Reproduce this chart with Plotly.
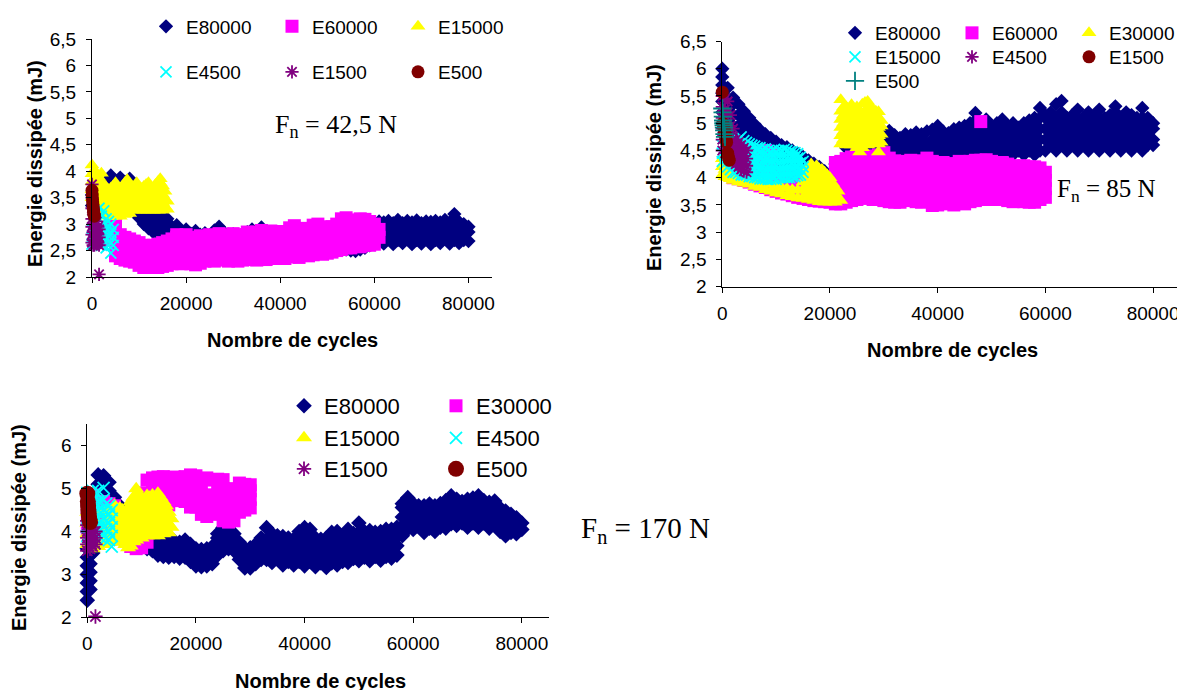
import plotly.graph_objects as go

# The page body adds an 8 px margin, so the figure is drawn 8 px smaller and shifted.
PAGE_W, PAGE_H, OFF = 1185, 690, 8
W, H = PAGE_W - OFF, PAGE_H - OFF

# ---------------- tick labels ----------------
X_TICKS = [0, 20000, 40000, 60000, 80000]
X_TICK_TEXT = ["0", "20000", "40000", "60000", "80000"]
Y_TICKS_HALF = [2, 2.5, 3, 3.5, 4, 4.5, 5, 5.5, 6, 6.5]
Y_TICK_TEXT_HALF = ["2", "2,5", "3", "3,5", "4", "4,5", "5", "5,5", "6", "6,5"]
Y_TICKS_UNIT = [2, 3, 4, 5, 6]
Y_TICK_TEXT_UNIT = ["2", "3", "4", "5", "6"]

# ================= Chart 1 : Fn = 42,5 N =================
C1_E80000_X = [0, 1000, 2000, 3000, 4000, 5000, 6000, 7000, 8000, 9000,
               10000, 11000, 12000, 13000, 14000, 15000, 16000, 17000, 18000, 19000,
               20000, 21000, 22000, 23000, 24000, 25000, 26000, 27000, 28000, 29000,
               30000, 31000, 32000, 33000, 34000, 35000, 36000, 37000, 38000, 39000,
               40000, 41000, 42000, 43000, 44000, 45000, 46000, 47000, 48000, 49000,
               50000, 51000, 52000, 53000, 54000, 55000, 56000, 57000, 58000, 59000,
               60000, 61000, 62000, 63000, 64000, 65000, 66000, 67000, 68000, 69000,
               70000, 71000, 72000, 73000, 74000, 75000, 76000, 77000, 78000, 79000, 80000]
C1_E80000_Y = [
    [3.35, 3.55], [3.4, 3.65], [3.45, 3.7], [3.5, 3.8], [3.55, 3.92],
    [3.5, 3.82], [3.55, 3.88], [3.5, 3.8], [3.45, 3.86], [3.28, 3.4],
    [3.12, 3.3], [3.0, 3.2, 3.3], [2.92, 3.1, 3.25], [2.85, 3.05, 3.2], [2.83, 3.0, 3.15],
    [2.84, 3.0, 3.12], [2.82, 2.98, 3.1], [2.75, 2.95], [2.7, 2.98], [2.65, 2.85],
    [2.65, 2.9], [2.6, 2.82], [2.65, 2.87], [2.6, 2.8], [2.62, 2.83],
    [2.6, 2.78], [2.65, 2.88], [2.65, 2.95], [2.6, 2.85], [2.62, 2.8],
    [2.6, 2.81], [2.6, 2.78], [2.6, 2.82], [2.62, 2.85], [2.6, 2.9],
    [2.62, 2.85], [2.6, 2.94], [2.58, 2.85], [2.6, 2.82], [2.55, 2.78],
    [2.58, 2.83], [2.55, 2.8], [2.56, 2.82], [2.5, 2.78], [2.52, 2.8],
    [2.55, 2.82], [2.52, 2.8], [2.55, 2.85], [2.53, 2.82], [2.55, 2.85],
    [2.56, 2.88], [2.55, 2.85], [2.58, 2.9], [2.55, 2.88], [2.52, 2.85],
    [2.5, 2.75], [2.49, 2.7], [2.52, 2.8], [2.55, 2.85], [2.6, 2.9],
    [2.62, 2.82, 3.02], [2.7, 2.9, 3.05], [2.63, 2.83, 3.03], [2.72, 2.92, 3.06], [2.62, 2.82, 3.02],
    [2.7, 2.9, 3.08], [2.64, 2.84, 3.02], [2.72, 2.92, 3.06], [2.62, 2.82, 3.03], [2.7, 2.9, 3.07],
    [2.63, 2.83, 3.02], [2.72, 2.92, 3.05], [2.62, 2.82, 3.04], [2.7, 2.9, 3.06], [2.64, 2.84, 3.03],
    [2.72, 2.92, 3.08], [2.63, 2.83, 3.03], [2.7, 2.9, 3.19], [2.64, 2.84, 3.04], [2.7, 2.9, 3.0],
    [2.68, 2.85, 2.95],
]

C1_E60000_X = [4000, 5000, 6000, 7000, 8000, 9000, 10000, 11000, 12000, 13000,
               14000, 15000, 16000, 17000, 18000, 19000, 20000, 21000, 22000, 23000,
               24000, 25000, 26000, 27000, 28000, 29000, 30000, 31000, 32000, 33000,
               34000, 35000, 36000, 37000, 38000, 39000, 40000, 41000, 42000, 43000,
               44000, 45000, 46000, 47000, 48000, 49000, 50000, 51000, 52000, 53000,
               54000, 55000, 56000, 57000, 58000, 59000, 60000, 61000]
C1_E60000_Y = [
    [2.7, 2.95], [2.4, 2.62, 2.85, 3.0], [2.35, 2.57, 2.8], [2.32, 2.54, 2.75], [2.3, 2.51, 2.72],
    [2.28, 2.48, 2.68], [2.22, 2.44, 2.65], [2.18, 2.4, 2.6], [2.18, 2.38, 2.58], [2.2, 2.4, 2.6],
    [2.18, 2.4, 2.62], [2.2, 2.42, 2.65], [2.22, 2.45, 2.68], [2.25, 2.48, 2.72], [2.27, 2.5, 2.75, 2.8],
    [2.25, 2.48, 2.72], [2.28, 2.52, 2.8], [2.25, 2.48, 2.72], [2.23, 2.46, 2.7, 2.75], [2.26, 2.5, 2.75, 2.78],
    [2.3, 2.52, 2.72], [2.32, 2.56, 2.8], [2.3, 2.54, 2.78], [2.33, 2.57, 2.82], [2.32, 2.56, 2.8],
    [2.3, 2.52, 2.75], [2.33, 2.57, 2.82], [2.3, 2.54, 2.8], [2.32, 2.55, 2.78], [2.33, 2.5, 2.68, 2.85],
    [2.35, 2.58, 2.82], [2.32, 2.5, 2.68, 2.85], [2.35, 2.53, 2.71, 2.88], [2.33, 2.5, 2.67, 2.83], [2.35, 2.52, 2.7, 2.87],
    [2.35, 2.58, 2.8], [2.36, 2.53, 2.7, 2.86], [2.35, 2.52, 2.69, 2.85], [2.38, 2.56, 2.75, 2.93], [2.4, 2.59, 2.78, 2.97],
    [2.37, 2.55, 2.73, 2.9], [2.42, 2.6, 2.77, 2.92], [2.4, 2.57, 2.74, 2.9], [2.42, 2.61, 2.8, 2.98], [2.45, 2.63, 2.82, 3.0],
    [2.43, 2.6, 2.77, 2.93], [2.45, 2.62, 2.79, 2.95], [2.47, 2.63, 2.79, 2.95], [2.5, 2.67, 2.84, 3.0], [2.52, 2.71, 2.9, 3.1],
    [2.55, 2.74, 2.93, 3.12], [2.55, 2.72, 2.89, 3.05], [2.58, 2.75, 2.92, 3.08], [2.57, 2.75, 2.93, 3.1], [2.6, 2.77, 2.94, 3.09],
    [2.6, 2.76, 2.92, 3.05], [2.62, 2.8, 3.0], [2.75, 2.9],
]

C1_E15000_X = [0, 500, 1000, 1500, 2000, 2500, 3000, 3500, 4000, 4500,
               5000, 5500, 6000, 6500, 7000, 7500, 8000, 8500, 9000, 9500,
               10000, 10500, 11000, 11500, 12000, 12500, 13000, 13500, 14000, 14500,
               15000, 15500, 16000]
C1_E15000_Y = [
    [3.5, 3.65, 3.8, 3.95, 4.12], [3.42, 3.57, 3.72, 3.87, 4.02], [3.4, 3.55, 3.7, 3.85, 3.95],
    [3.33, 3.48, 3.63, 3.78, 3.88], [3.3, 3.45, 3.6, 3.75, 3.96], [3.22, 3.37, 3.52, 3.67, 3.75],
    [3.15, 3.3, 3.45, 3.6, 3.7], [3.2, 3.35, 3.5, 3.65], [3.14, 3.29, 3.44, 3.59, 3.68],
    [3.2, 3.35, 3.5, 3.65, 3.72], [3.15, 3.3, 3.45, 3.6, 3.78], [3.2, 3.35, 3.5, 3.65],
    [3.15, 3.3, 3.45, 3.6, 3.66], [3.22, 3.37, 3.52, 3.67, 3.72], [3.18, 3.33, 3.48, 3.63, 3.78],
    [3.24, 3.39, 3.54, 3.69, 3.84], [3.2, 3.35, 3.5, 3.65, 3.7], [3.27, 3.42, 3.57, 3.67],
    [3.26, 3.41, 3.56, 3.71], [3.33, 3.48, 3.63, 3.78], [3.26, 3.41, 3.56, 3.68],
    [3.33, 3.48, 3.63, 3.67], [3.26, 3.41, 3.56, 3.71], [3.33, 3.48, 3.63, 3.75],
    [3.26, 3.41, 3.56, 3.71, 3.78], [3.33, 3.48, 3.63, 3.67], [3.26, 3.41, 3.56, 3.68],
    [3.33, 3.48, 3.63, 3.75], [3.26, 3.41, 3.56, 3.71, 3.8], [3.33, 3.48, 3.63, 3.78, 3.86],
    [3.26, 3.41, 3.56, 3.72], [3.33, 3.48, 3.62], [3.28, 3.43],
]

C1_E4500_X = [0, 500, 1000, 1500, 2000, 2500, 3000, 3500, 4000, 4500]
C1_E4500_Y = [
    [2.62, 2.75, 2.9], [2.65, 2.8, 3.0], [2.7, 2.85, 3.05, 3.2], [2.65, 2.9, 3.1, 3.3],
    [2.6, 2.75, 2.95, 3.15], [2.62, 2.8, 3.0, 3.25], [2.55, 2.7, 2.9, 3.1],
    [2.6, 2.78, 2.95, 3.05], [2.45, 2.65, 2.85, 3.0], [2.6, 2.75, 2.9],
]

C1_E1500_X = [0, 250, 500, 750, 1000, 1250, 1500]
C1_E1500_Y = [
    [3.75, 3.5, 3.3, 3.1, 2.95, 2.8, 2.65], [3.0, 2.85, 2.7, 2.6], [3.1, 2.9, 2.75, 2.6],
    [3.0, 2.85, 2.7], [3.05, 2.9, 2.75, 2.62], [2.95, 2.8, 2.65], [2.9, 2.75, 2.6, 2.05],
]

C1_E500_X = [0, 50, 100, 150, 200, 250, 300, 350, 400, 450, 500]
C1_E500_Y = [3.64, 3.55, 3.47, 3.42, 3.37, 3.33, 3.28, 3.24, 3.2, 3.17, 3.15]

# ================= Chart 2 : Fn = 85 N =================
C2_E80000_X = [0, 1000, 2000, 3000, 4000, 5000, 6000, 7000, 8000, 9000,
               10000, 11000, 12000, 13000, 14000, 15000, 16000, 17000, 18000, 19000,
               20000, 21000, 22000, 23000, 24000, 25000, 26000, 27000, 28000, 29000,
               30000, 31000, 32000, 33000, 34000, 35000, 36000, 37000, 38000, 39000,
               40000, 41000, 42000, 43000, 44000, 45000, 46000, 47000, 48000, 49000,
               50000, 51000, 52000, 53000, 54000, 55000, 56000, 57000, 58000, 59000,
               60000, 61000, 62000, 63000, 64000, 65000, 66000, 67000, 68000, 69000,
               70000, 71000, 72000, 73000, 74000, 75000, 76000, 77000, 78000, 79000, 80000]
C2_E80000_Y = [
    [6.0, 5.85, 5.7, 5.55, 5.4, 5.2, 5.0], [5.65, 5.45, 5.25, 5.05, 4.85], [5.47, 5.35, 5.15, 4.95, 4.75],
    [5.35, 5.15, 4.95, 4.75], [5.22, 5.05, 4.85, 4.65], [5.1, 4.95, 4.75, 4.55],
    [4.98, 4.85, 4.65, 4.45], [4.88, 4.75, 4.55, 4.38], [4.8, 4.65, 4.45, 4.3],
    [4.73, 4.55, 4.37, 4.25], [4.66, 4.48, 4.3, 4.2], [4.6, 4.42, 4.25, 4.15],
    [4.56, 4.38, 4.2, 4.1], [4.5, 4.32, 4.15, 4.05], [4.44, 4.27, 4.1, 4.0],
    [4.38, 4.22, 4.05, 3.95], [4.32, 4.17, 4.0, 3.9], [4.26, 4.1, 3.95, 3.85],
    [4.2, 4.03, 3.88, 3.75], [4.12, 3.95, 3.8, 3.65], [4.0, 3.85, 3.7, 3.56],
    [4.25, 4.08, 3.9, 3.6], [4.3, 4.12, 3.95], [4.35, 4.55, 4.75], [4.35, 4.55, 4.75],
    [4.35, 4.55, 4.75], [4.35, 4.55, 4.75], [4.35, 4.55, 4.75], [4.35, 4.55, 4.75],
    [4.38, 4.58, 4.78], [4.42, 4.62, 4.82], [4.5, 4.7, 4.86], [4.42, 4.62, 4.78],
    [4.5, 4.73], [4.42, 4.62, 4.8], [4.5, 4.7, 4.78], [4.42, 4.62, 4.83],
    [4.5, 4.7, 4.8], [4.42, 4.62, 4.85], [4.5, 4.7, 4.88], [4.42, 4.62, 4.82, 4.95],
    [4.5, 4.7, 4.85], [4.42, 4.62, 4.82], [4.5, 4.7, 4.89], [4.42, 4.62, 4.82, 4.92],
    [4.5, 4.7, 4.9, 4.95], [4.42, 4.62, 4.82, 5.0], [4.5, 4.7, 4.9, 5.05, 5.19], [4.42, 4.62, 4.82, 4.98],
    [4.5, 4.7, 4.9, 5.07], [4.42, 4.62, 4.82, 4.95], [4.5, 4.7, 4.9, 5.0], [4.42, 4.62, 4.82, 5.0, 5.07],
    [4.5, 4.7, 4.9, 4.95], [4.42, 4.62, 4.82, 5.0], [4.5, 4.7, 4.92], [4.42, 4.62, 4.82, 5.0],
    [4.5, 4.7, 4.9, 5.05], [4.42, 4.62, 4.82, 5.02, 5.1], [4.5, 4.7, 4.9, 5.1, 5.28],
    [4.5, 4.7, 4.9, 5.1, 5.15], [4.6, 4.8, 5.0, 5.2], [4.5, 4.7, 4.9, 5.1, 5.35],
    [4.6, 4.8, 5.0, 5.2, 5.41], [4.5, 4.7, 4.9, 5.1], [4.6, 4.8, 5.0, 5.15],
    [4.5, 4.7, 4.9, 5.1, 5.25], [4.6, 4.8, 5.0, 5.1], [4.5, 4.7, 4.9, 5.1, 5.2],
    [4.6, 4.8, 5.0, 5.13], [4.5, 4.7, 4.9, 5.1, 5.25], [4.6, 4.8, 5.0, 5.1],
    [4.5, 4.7, 4.9, 5.1, 5.15], [4.6, 4.8, 5.0, 5.2, 5.31], [4.5, 4.7, 4.9, 5.1],
    [4.6, 4.8, 5.0, 5.2], [4.5, 4.7, 4.9, 5.1, 5.15], [4.6, 4.8, 5.0, 5.1],
    [4.5, 4.7, 4.9, 5.1, 5.28], [4.6, 4.8, 5.0, 5.1], [4.6, 4.7, 4.9, 5.0],
]

C2_E60000_X = [1000, 2000, 3000, 4000, 5000, 6000, 7000, 8000, 9000, 10000,
               11000, 12000, 13000, 14000, 15000, 16000, 17000, 18000, 19000, 20000,
               21000, 22000, 23000, 24000, 25000, 26000, 27000, 28000, 29000, 30000,
               31000, 32000, 33000, 34000, 35000, 36000, 37000, 38000, 39000, 40000,
               41000, 42000, 43000, 44000, 45000, 46000, 47000, 48000, 49000, 50000,
               51000, 52000, 53000, 54000, 55000, 56000, 57000, 58000, 59000, 60000]
C2_E60000_Y = [
    [4.15, 4.35], [4.0, 4.2, 4.4], [3.98, 4.15, 4.35], [3.95, 4.12, 4.3], [3.92, 4.1, 4.3],
    [3.88, 4.05, 4.25], [3.85, 4.02, 4.25, 4.45], [3.82, 4.0, 4.2, 4.5], [3.78, 3.95, 4.15, 4.45], [3.75, 3.92, 4.1],
    [3.72, 3.9, 4.08], [3.7, 3.88, 4.05], [3.67, 3.85, 4.02], [3.64, 3.82, 4.0], [3.62, 3.8, 3.98],
    [3.6, 3.78, 3.95], [3.58, 3.76, 3.95], [3.57, 3.75, 3.95], [3.56, 3.75, 3.95], [3.55, 3.75, 4.0],
    [3.52, 3.7, 3.9, 4.1, 4.28], [3.52, 3.72, 3.92, 4.12, 4.3], [3.55, 3.75, 3.95, 4.15, 4.35],
    [3.58, 3.78, 3.98, 4.18, 4.38], [3.6, 3.8, 4.0, 4.2, 4.43], [3.64, 3.82, 4.02, 4.22, 4.4],
    [3.62, 3.8, 4.0, 4.2, 4.38], [3.6, 3.8, 4.0, 4.2, 4.4], [3.6, 3.78, 3.98, 4.2, 4.42],
    [3.58, 3.78, 3.98, 4.2, 4.46], [3.56, 3.76, 3.96, 4.16, 4.36], [3.55, 3.75, 3.95, 4.15, 4.31],
    [3.55, 3.75, 3.95, 4.12, 4.28], [3.58, 3.76, 3.95, 4.12, 4.3], [3.6, 3.78, 3.96, 4.14, 4.32],
    [3.56, 3.75, 3.95, 4.12, 4.3], [3.55, 3.74, 3.94, 4.12, 4.31], [3.58, 3.76, 3.95, 4.15, 4.36],
    [3.49, 3.7, 3.9, 4.1, 4.3], [3.5, 3.7, 3.9, 4.08, 4.25], [3.52, 3.72, 3.92, 4.1, 4.28],
    [3.55, 3.74, 3.93, 4.1, 4.24], [3.5, 3.7, 3.9, 4.08, 4.26], [3.55, 3.74, 3.93, 4.12, 4.3],
    [3.52, 3.72, 3.92, 4.1, 4.28], [3.56, 3.76, 3.95, 4.12, 4.3], [3.58, 3.76, 3.95, 4.14, 4.32],
    [3.6, 3.78, 3.96, 4.14, 4.32, 5.03], [3.6, 3.78, 3.96, 4.15, 4.33], [3.62, 3.8, 3.98, 4.15, 4.3],
    [3.6, 3.78, 3.96, 4.12, 4.28], [3.61, 3.78, 3.95, 4.12, 4.28], [3.58, 3.76, 3.94, 4.1, 4.25],
    [3.56, 3.75, 3.93, 4.1, 4.22], [3.58, 3.76, 3.94, 4.1, 4.21], [3.56, 3.75, 3.93, 4.1, 4.22],
    [3.55, 3.74, 3.92, 4.08, 4.2], [3.55, 3.74, 3.92, 4.08, 4.2], [3.6, 3.78, 3.95, 4.1, 4.18],
    [3.64, 3.8, 3.95, 4.1],
]

C2_E30000_X = [0, 500, 1000, 1500, 2000, 3000, 4000, 5000, 6000, 7000,
               8000, 9000, 10000, 11000, 12000, 13000, 14000, 15000, 15500, 16000,
               16500, 17000, 17500, 18000, 18500, 19000, 19500, 20000, 20500, 21000,
               21500, 22000, 22500, 23000, 23500, 24000, 24500, 25000, 25500, 26000,
               26500, 27000, 27500, 28000, 28500, 29000, 29500]
C2_E30000_Y = [
    [4.05, 4.2, 4.35], [4.02, 4.15, 4.3], [4.0, 4.12, 4.25], [3.98, 4.1, 4.22], [3.95, 4.08],
    [3.92, 4.05], [3.9, 4.02], [3.88, 4.0], [3.84, 3.96], [3.82, 3.94],
    [3.78, 3.9], [3.75, 3.88], [3.72, 3.85], [3.7, 3.82], [3.67, 3.8],
    [3.65, 3.78], [3.63, 3.77], [3.62, 3.77, 3.92, 4.07], [3.7, 3.85, 4.0, 4.15], [3.6, 3.75, 3.9, 4.05, 4.2],
    [3.67, 3.82, 3.97, 4.12, 4.25], [3.58, 3.73, 3.88, 4.03, 4.18], [3.65, 3.8, 3.95, 4.1, 4.22], [3.56, 3.71, 3.86, 4.01, 4.16],
    [3.63, 3.78, 3.93, 4.08, 4.15], [3.55, 3.7, 3.85, 4.0, 4.1], [3.62, 3.77, 3.92, 4.05], [3.55, 3.7, 3.85, 4.0],
    [3.62, 3.77, 3.9], [3.55, 3.7, 3.82], [3.62, 3.75],
    [3.58, 4.62, 4.77, 4.92, 5.07, 5.22, 5.43], [4.7, 4.85, 5.0, 5.15, 5.3],
    [4.6, 4.75, 4.9, 5.05, 5.2, 5.3], [4.68, 4.83, 4.98, 5.13, 5.25],
    [4.6, 4.75, 4.9, 5.05, 5.2, 5.34], [4.68, 4.83, 4.98, 5.13, 5.25],
    [4.55, 4.7, 4.85, 5.0, 5.15, 5.3], [4.47, 4.62, 4.77, 4.92, 5.07, 5.22],
    [4.55, 4.7, 4.85, 5.0, 5.15, 5.35], [4.62, 4.77, 4.92, 5.07, 5.22, 5.38],
    [4.6, 4.75, 4.9, 5.05, 5.2, 5.4], [4.68, 4.83, 4.98, 5.13, 5.28],
    [4.62, 4.77, 4.92, 5.07, 5.25], [4.7, 4.85, 5.0, 5.15, 5.22],
    [4.47, 4.62, 4.77, 4.92, 5.07, 5.21], [4.65, 4.8, 4.95, 5.05],
]

C2_E15000_X = [0, 500, 1000, 1500, 2000, 2500, 3000, 3500, 4000, 4500,
               5000, 5500, 6000, 6500, 7000, 7500, 8000, 8500, 9000, 9500,
               10000, 10500, 11000, 11500, 12000, 12500, 13000, 13500, 14000, 14500, 15000]
C2_E15000_Y = [
    [4.3, 4.45, 4.6], [4.25, 4.4, 4.55], [4.2, 4.35, 4.5, 4.65], [4.15, 4.3, 4.45, 4.6],
    [4.1, 4.25, 4.4, 4.55], [4.1, 4.25, 4.4, 4.6], [4.08, 4.25, 4.45, 4.7],
    [4.05, 4.2, 4.4, 4.6, 4.75], [4.05, 4.2, 4.35, 4.5, 4.68], [4.05, 4.2, 4.35, 4.5, 4.65],
    [4.02, 4.18, 4.32, 4.48, 4.62], [4.02, 4.15, 4.3, 4.45, 4.6], [4.0, 4.15, 4.3, 4.45, 4.58],
    [4.0, 4.12, 4.28, 4.42, 4.55], [3.98, 4.12, 4.25, 4.4, 4.55], [3.98, 4.1, 4.25, 4.4, 4.52],
    [3.98, 4.1, 4.25, 4.38, 4.53], [3.97, 4.1, 4.22, 4.36, 4.5], [3.97, 4.1, 4.22, 4.35, 4.48],
    [3.98, 4.1, 4.22, 4.35, 4.5], [3.97, 4.1, 4.22, 4.35, 4.48], [4.0, 4.12, 4.25, 4.38, 4.5],
    [4.0, 4.12, 4.25, 4.38, 4.5], [4.0, 4.12, 4.25, 4.38, 4.52], [4.0, 4.12, 4.24, 4.36, 4.5],
    [4.0, 4.12, 4.24, 4.36, 4.48], [4.02, 4.14, 4.26, 4.38, 4.48], [4.02, 4.14, 4.26, 4.38, 4.46],
    [4.04, 4.15, 4.26, 4.36, 4.44], [4.05, 4.16, 4.27, 4.38], [4.1, 4.2, 4.3],
]

C2_E4500_X = [0, 500, 1000, 1500, 2000, 2500, 3000, 3500, 4000, 4500]
C2_E4500_Y = [
    [4.5, 4.7, 4.9, 5.1, 5.3, 5.5], [4.45, 4.65, 4.85, 5.05, 5.25, 5.45],
    [4.4, 4.6, 4.8, 5.0, 5.2, 5.4], [4.35, 4.55, 4.75, 4.95, 5.15],
    [4.3, 4.5, 4.7, 4.9], [4.25, 4.4, 4.55, 4.7], [4.2, 4.35, 4.5, 4.65],
    [4.15, 4.3, 4.45, 4.6], [4.12, 4.25, 4.4, 4.55], [4.1, 4.22, 4.35, 4.5],
]

C2_E1500_X = [0, 100, 200, 300, 400, 500, 600, 700, 800, 1000, 1100, 1200, 1300]
C2_E1500_Y = [5.57, 5.0, 4.95, 4.9, 4.85, 4.8, 4.75, 4.7, 4.65, 4.45, 4.4, 4.35, 4.32]

C2_E500_X = [0, 50, 100, 150, 200, 250, 300, 350, 400, 500]
C2_E500_Y = [5.27, 5.2, 5.12, 5.05, 5.0, 4.96, 4.92, 4.87, 4.8, 4.75]

# ================= Chart 3 : Fn = 170 N =================
C3_E80000_X = [0, 500, 1000, 2000, 3000, 4000, 5000, 6000, 7000, 8000, 9000, 10000,
               11000, 12000, 13000, 14000, 15000, 16000, 17000, 18000, 19000,
               20000, 21000, 22000, 23000, 24000, 25000, 26000, 27000, 28000, 29000,
               30000, 31000, 32000, 33000, 34000, 35000, 36000, 37000, 38000, 39000,
               40000, 41000, 42000, 43000, 44000, 45000, 46000, 47000, 48000, 49000,
               50000, 51000, 52000, 53000, 54000, 55000, 56000, 57000, 58000, 59000,
               60000, 61000, 62000, 63000, 64000, 65000, 66000, 67000, 68000, 69000,
               70000, 71000, 72000, 73000, 74000, 75000, 76000, 77000, 78000, 79000, 80000]
C3_E80000_Y = [
    [2.4, 2.6, 2.8, 3.0, 3.2, 3.4, 3.6], [2.65, 2.85, 3.05, 3.25, 3.45], [3.5, 3.8, 4.1, 4.4],
    [4.6, 4.85, 5.1, 5.32], [4.6, 4.85, 5.1, 5.3], [4.5, 4.75, 4.95, 5.15], [4.4, 4.6, 4.8],
    [4.2, 4.4, 4.6], [3.9, 4.1, 4.3], [3.9, 4.1, 4.3], [3.9, 4.1, 4.3], [3.85, 4.05, 4.25],
    [3.6, 3.8, 4.0], [3.55, 3.7, 3.85], [3.45, 3.62, 3.78], [3.42, 3.6, 3.76], [3.4, 3.58, 3.75],
    [3.42, 3.6, 3.78], [3.38, 3.56, 3.75], [3.4, 3.58, 3.8], [3.3, 3.5, 3.7],
    [3.2, 3.4, 3.6], [3.18, 3.38, 3.58], [3.2, 3.4, 3.6], [3.25, 3.45, 3.65], [3.45, 3.65, 3.85, 3.95],
    [3.55, 3.75, 3.95, 4.09], [3.6, 3.8, 4.02], [3.55, 3.75, 3.95], [3.35, 3.55, 3.75], [3.15, 3.35, 3.55, 3.6],
    [3.15, 3.35, 3.55, 3.62], [3.25, 3.45, 3.65, 3.7], [3.35, 3.55, 3.75, 3.85], [3.35, 3.57, 3.79, 4.09],
    [3.28, 3.5, 3.72, 3.95], [3.36, 3.58, 3.8, 3.9], [3.22, 3.44, 3.66, 3.88], [3.3, 3.52, 3.74, 3.85],
    [3.22, 3.44, 3.66, 3.82], [3.3, 3.52, 3.74, 4.0], [3.2, 3.42, 3.64, 3.86, 4.09], [3.3, 3.52, 3.74, 3.96, 4.05],
    [3.18, 3.4, 3.62, 3.85], [3.27, 3.49, 3.71, 3.82], [3.16, 3.38, 3.6, 3.85], [3.27, 3.49, 3.71, 3.98],
    [3.22, 3.44, 3.66, 3.88, 4.0], [3.3, 3.52, 3.74, 3.9], [3.28, 3.5, 3.72, 3.94, 4.05], [3.37, 3.59, 3.81, 3.95],
    [3.32, 3.54, 3.76, 3.98, 4.2], [3.4, 3.62, 3.84, 4.0], [3.32, 3.54, 3.76, 3.98, 4.02], [3.42, 3.64, 3.86, 3.98],
    [3.33, 3.55, 3.77, 4.0], [3.42, 3.64, 3.86, 4.05], [3.38, 3.6, 3.82, 4.05], [3.45, 3.67, 3.89, 4.1],
    [3.9, 4.12, 4.34, 4.56, 4.65], [4.06, 4.28, 4.5, 4.72, 4.79], [4.05, 4.27, 4.49, 4.65], [4.12, 4.34, 4.56, 4.6],
    [3.98, 4.2, 4.42, 4.6], [4.08, 4.3, 4.52, 4.64], [4.0, 4.22, 4.44, 4.6], [4.1, 4.32, 4.54, 4.65],
    [4.08, 4.3, 4.52, 4.72], [4.18, 4.4, 4.62, 4.83], [4.14, 4.36, 4.58, 4.75], [4.2, 4.42, 4.64, 4.7],
    [4.1, 4.32, 4.54, 4.75], [4.2, 4.42, 4.64, 4.78], [4.1, 4.32, 4.54, 4.76, 4.83], [4.2, 4.42, 4.64, 4.72],
    [4.08, 4.3, 4.52, 4.68], [4.16, 4.38, 4.6, 4.71], [4.0, 4.22, 4.44, 4.55], [3.9, 4.12, 4.34, 4.48],
    [3.98, 4.2, 4.4], [3.95, 4.17, 4.32], [4.05, 4.2],
]

C3_E30000_X = [0, 1000, 2000, 3000, 4000, 5000, 6000, 7000, 8000, 9000,
               10000, 11000, 12000, 13000, 14000, 15000, 16000, 17000, 18000, 19000,
               20000, 21000, 22000, 23000, 24000, 25000, 26000, 27000, 28000, 29000, 30000]
C3_E30000_Y = [
    [4.05, 4.3, 4.55, 4.8], [4.1, 4.35, 4.6, 4.85], [4.2, 4.45, 4.7], [4.2, 4.45, 4.7],
    [4.15, 4.4, 4.65], [4.1, 4.35, 4.6], [3.95, 4.2, 4.45], [3.8, 4.05, 4.3], [3.65, 3.9, 4.15],
    [3.6, 3.85, 4.1], [3.62, 3.9, 4.6, 4.9], [3.75, 4.55, 4.85, 5.2], [4.5, 4.75, 5.0, 5.25],
    [4.55, 4.8, 5.05, 5.27], [4.6, 4.82, 5.05, 5.28], [4.62, 4.85, 5.07, 5.25], [4.72, 4.92, 5.12, 5.27],
    [4.73, 4.92, 5.1, 5.25], [4.7, 4.9, 5.1, 5.28], [4.57, 4.8, 5.05, 5.32], [4.57, 4.8, 5.05, 5.3],
    [4.4, 4.62, 4.85, 5.1], [4.35, 4.6, 4.85, 5.25], [4.4, 4.62, 4.85, 5.2], [4.45, 4.7, 4.95, 5.22],
    [4.25, 4.5, 4.75, 5.0, 5.21], [4.22, 4.45, 4.7, 4.95], [4.25, 4.5, 4.75, 5.0], [4.45, 4.7, 4.9, 5.13],
    [4.5, 4.72, 4.95, 5.1], [4.55, 4.75, 4.95, 5.09],
]

C3_E15000_X = [0, 1000, 2000, 3000, 4000, 5000, 5500, 6000, 6500, 7000,
               7500, 8000, 8500, 9000, 9500, 10000, 10500, 11000, 11500, 12000,
               12500, 13000, 13500, 14000, 14500, 15000, 15500]
C3_E15000_Y = [
    [3.7, 3.95, 4.2, 4.45], [3.6, 3.85, 4.1, 4.35], [3.65, 3.9, 4.15, 4.4], [3.7, 3.95, 4.2, 4.45],
    [3.75, 4.0, 4.25, 4.5], [3.8, 4.0, 4.2, 4.4, 4.61], [3.9, 4.1, 4.3, 4.5],
    [3.8, 4.0, 4.2, 4.4, 4.55], [3.75, 3.95, 4.15, 4.35, 4.5], [3.7, 3.9, 4.1, 4.3, 4.45],
    [3.62, 3.82, 4.02, 4.22, 4.42, 4.55], [3.66, 3.86, 4.06, 4.26, 4.46, 4.7],
    [3.76, 3.96, 4.16, 4.36, 4.56, 4.8], [3.8, 4.0, 4.2, 4.4, 4.6, 4.8, 5.0],
    [3.9, 4.1, 4.3, 4.5, 4.7, 4.85], [3.85, 4.05, 4.25, 4.45, 4.65, 4.8],
    [3.95, 4.15, 4.35, 4.55, 4.7], [3.9, 4.1, 4.3, 4.5, 4.7, 4.84],
    [4.0, 4.2, 4.4, 4.6, 4.8], [3.9, 4.1, 4.3, 4.5, 4.7, 4.85],
    [4.0, 4.2, 4.4, 4.6, 4.8], [3.9, 4.1, 4.3, 4.5, 4.7, 4.89],
    [4.0, 4.2, 4.4, 4.6, 4.8], [3.95, 4.15, 4.35, 4.55, 4.7],
    [4.05, 4.25, 4.45, 4.6], [3.97, 4.17, 4.37, 4.45], [4.1, 4.3],
]

C3_E4500_X = [0, 500, 1000, 1500, 2000, 2500, 3000, 3500, 4000, 4500]
C3_E4500_Y = [
    [3.9, 4.1, 4.3, 4.5, 4.7, 4.9], [3.85, 4.05, 4.25, 4.45, 4.65, 4.85],
    [3.9, 4.1, 4.3, 4.5, 4.7, 4.95], [3.85, 4.05, 4.25, 4.45, 4.65, 4.9],
    [3.9, 4.1, 4.3, 4.5, 4.7, 4.95], [3.85, 4.05, 4.25, 4.45, 4.7],
    [3.9, 4.1, 4.3, 4.5, 4.75, 5.02], [3.85, 4.05, 4.25, 4.45, 4.65],
    [3.8, 4.0, 4.2, 4.4, 4.6], [3.65, 3.9, 4.1, 4.3, 4.5],
]

C3_E1500_X = [0, 500, 1000, 1500]
C3_E1500_Y = [
    [3.55, 3.7, 3.85, 4.0, 4.15, 4.25], [3.6, 3.75, 3.9, 4.05, 4.2],
    [3.65, 3.8, 3.95, 4.1], [3.7, 3.85, 4.0, 2.02],
]

C3_E500_X = [0, 100, 150, 200, 250, 300, 400, 500]
C3_E500_Y = [4.88, 4.7, 4.6, 4.5, 4.42, 4.35, 4.28, 4.22]


def expand(xs, ys):
    assert len(xs) == len(ys), (len(xs), len(ys))
    ox, oy = [], []
    for x, yv in zip(xs, ys):
        if isinstance(yv, (list, tuple)):
            for v in yv:
                ox.append(x)
                oy.append(v)
        else:
            ox.append(x)
            oy.append(yv)
    return ox, oy


NAVY, MAGENTA, YELLOW = "#000080", "#FF00FF", "#FFFF00"
CYAN, PURPLE, MAROON, TEAL = "#00FFFF", "#800080", "#800000", "#008080"

STY = {
    "diamond": dict(symbol="diamond", size=11),
    "square": dict(symbol="square", size=13),
    "triangle": dict(symbol="triangle-up", size=13),
    "x": dict(symbol="x-thin-open", size=11),
    "star": dict(symbol="asterisk-open", size=11),
    "circle": dict(symbol="circle", size=13),
    "plus": dict(symbol="cross-thin-open", size=13),
}

fig = go.Figure()


def add(name, xs, ys, color, kind, xa, ya, legend, size=None):
    px_, py_ = expand(xs, ys)
    st = dict(STY[kind])
    if size is not None:
        st["size"] = size
    open_sym = st["symbol"].endswith("open")
    marker = dict(symbol=st["symbol"], size=st["size"], color=color,
                  line=dict(width=1.8 if open_sym else 0, color=color))
    fig.add_trace(go.Scatter(x=px_, y=py_, mode="markers", name=name, marker=marker,
                             xaxis=xa, yaxis=ya, legend=legend, cliponaxis=False,
                             showlegend=True, hoverinfo="skip"))


# chart 1
add("E80000", C1_E80000_X, C1_E80000_Y, NAVY, "diamond", "x", "y", "legend")
add("E60000", C1_E60000_X, C1_E60000_Y, MAGENTA, "square", "x", "y", "legend")
add("E15000", C1_E15000_X, C1_E15000_Y, YELLOW, "triangle", "x", "y", "legend")
add("E4500", C1_E4500_X, C1_E4500_Y, CYAN, "x", "x", "y", "legend2")
add("E1500", C1_E1500_X, C1_E1500_Y, PURPLE, "star", "x", "y", "legend2")
add("E500", C1_E500_X, C1_E500_Y, MAROON, "circle", "x", "y", "legend2")
# chart 2
add("E80000", C2_E80000_X, C2_E80000_Y, NAVY, "diamond", "x2", "y2", "legend3")
add("E60000", C2_E60000_X, C2_E60000_Y, MAGENTA, "square", "x2", "y2", "legend3")
add("E30000", C2_E30000_X, C2_E30000_Y, YELLOW, "triangle", "x2", "y2", "legend3")
add("E15000", C2_E15000_X, C2_E15000_Y, CYAN, "x", "x2", "y2", "legend4")
add("E4500", C2_E4500_X, C2_E4500_Y, PURPLE, "star", "x2", "y2", "legend4")
add("E1500", C2_E1500_X, C2_E1500_Y, MAROON, "circle", "x2", "y2", "legend4")
add("E500", C2_E500_X, C2_E500_Y, TEAL, "plus", "x2", "y2", "legend5")
# chart 3
add("E80000", C3_E80000_X, C3_E80000_Y, NAVY, "diamond", "x3", "y3", "legend6", size=12)
add("E30000", C3_E30000_X, C3_E30000_Y, MAGENTA, "square", "x3", "y3", "legend6", size=13)
add("E15000", C3_E15000_X, C3_E15000_Y, YELLOW, "triangle", "x3", "y3", "legend7", size=14)
add("E4500", C3_E4500_X, C3_E4500_Y, CYAN, "x", "x3", "y3", "legend7", size=12)
add("E1500", C3_E1500_X, C3_E1500_Y, PURPLE, "star", "x3", "y3", "legend8", size=12)
add("E500", C3_E500_X, C3_E500_Y, MAROON, "circle", "x3", "y3", "legend8", size=16)

FONT = "Liberation Sans, Arial, sans-serif"
SERIF = "Liberation Serif, Times New Roman, serif"


def xaxis(domain, anchor):
    return dict(domain=domain, anchor=anchor, range=[0, 85000], tickvals=X_TICKS,
                ticktext=X_TICK_TEXT, ticks="outside", ticklen=5, tickcolor="black",
                showline=True, linecolor="black", linewidth=1, showgrid=False,
                zeroline=False, tickfont=dict(family=FONT, size=19, color="black"),
                ticklabelstandoff=4, fixedrange=True, automargin=False)


def yaxis(domain, anchor, tv, tt):
    return dict(domain=domain, anchor=anchor, range=[2, 6.5], tickvals=tv, ticktext=tt,
                ticks="outside", ticklen=5, tickcolor="black", showline=True,
                linecolor="black", linewidth=1, showgrid=False, zeroline=False,
                tickfont=dict(family=FONT, size=19, color="black"),
                ticklabelstandoff=6, fixedrange=True, automargin=False)


def px2x(p):
    return (p - OFF) / W


def py2y(p):
    return 1 - (p - OFF) / H


layout = dict(
    template="none",
    width=W, height=H, autosize=False,
    margin=dict(l=0, r=0, t=0, b=0, pad=0, autoexpand=False),
    paper_bgcolor="white", plot_bgcolor="rgba(0,0,0,0)",
    font=dict(family=FONT, color="black"),
    xaxis=xaxis([px2x(92), px2x(492)], "y"),
    yaxis=yaxis([py2y(277), py2y(39)], "x", Y_TICKS_HALF, Y_TICK_TEXT_HALF),
    xaxis2=xaxis([px2x(722.3), px2x(1180)], "y2"),
    yaxis2=yaxis([py2y(286.7), py2y(41.5)], "x2", Y_TICKS_HALF, Y_TICK_TEXT_HALF),
    xaxis3=xaxis([px2x(87.3), px2x(549)], "y3"),
    yaxis3=yaxis([py2y(617.3), py2y(424.3)], "x3", Y_TICKS_UNIT, Y_TICK_TEXT_UNIT),
)


def leg(xtext, ycenter, fsize, ew):
    return dict(orientation="h", x=px2x(xtext - 40), y=py2y(ycenter), xanchor="left",
                yanchor="middle", bgcolor="rgba(0,0,0,0)", borderwidth=0,
                font=dict(family=FONT, size=fsize, color="black"),
                entrywidth=ew, entrywidthmode="pixels", itemclick=False,
                itemdoubleclick=False)


layout["legend"] = leg(186, 26.5, 19, 81)
layout["legend2"] = leg(186, 72, 19, 81)
layout["legend3"] = leg(875, 33, 19, 72)
layout["legend4"] = leg(875, 57, 19, 72)
layout["legend5"] = leg(875, 81, 19, 72)
layout["legend6"] = leg(324, 406, 22, 107)
layout["legend7"] = leg(324, 438, 22, 107)
layout["legend8"] = leg(324, 469, 22, 107)

ann = []


def text(t, x, y, size, family=FONT, angle=0):
    ann.append(dict(text=t, x=px2x(x), y=py2y(y), xref="paper", yref="paper",
                    xanchor="center", yanchor="middle", showarrow=False,
                    textangle=angle, font=dict(family=family, size=size, color="black")))


text("F<sub>n</sub> = 42,5 N", 336, 126, 26, SERIF)
text("F<sub>n</sub> = 85 N", 1106, 190, 25, SERIF)
text("F<sub>n</sub> = 170 N", 646, 530, 29, SERIF)
text("<b>Nombre de cycles</b>", 292, 340, 20)
text("<b>Nombre de cycles</b>", 953, 350, 20)
text("<b>Nombre de cycles</b>", 320, 681, 20)
text("<b>Energie dissipée (mJ)</b>", 35, 164, 20, angle=-90)
text("<b>Energie dissipée (mJ)</b>", 654, 168, 20, angle=-90)
text("<b>Energie dissipée (mJ)</b>", 19, 528, 20, angle=-90)
layout["annotations"] = ann

fig.update_layout(**layout)
fig.write_html("out.html")
